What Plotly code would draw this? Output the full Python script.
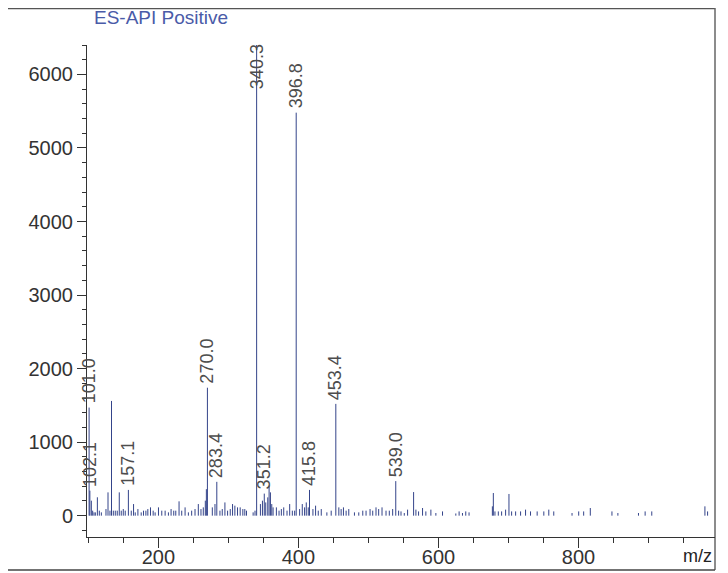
import plotly.graph_objects as go

# ---------------------------------------------------------------------------
# Spectrum values (m/z, intensity)
# ---------------------------------------------------------------------------

# labelled peaks
label_mz = [101.0, 102.1, 157.1, 270.0, 283.4, 340.3, 351.2, 396.8, 415.8, 453.4, 539.0]
label_int = [1470, 340, 350, 1740, 460, 6400, 300, 5480, 350, 1520, 470]
label_txt = ["101.0", "102.1", "157.1", "270.0", "283.4", "340.3", "351.2",
             "396.8", "415.8", "453.4", "539.0"]

# larger unlabelled peaks
other_mz = [112.8, 128.0, 133.0, 144.1, 164.5, 229.5, 268.5, 358.1, 360.0,
            564.5, 678.4, 700.7, 980.6]
other_int = [250, 317, 1560, 317, 158, 195, 360, 408, 317, 321, 308, 295, 127]

# baseline noise
noise_mz = [104.2, 106.1, 108.0, 109.9, 115.6, 118.5, 125.1, 130.8, 135.6, 138.4,
            141.2, 146.9, 149.8, 152.6, 161.2, 166.9, 170.7, 175.4, 178.7, 182.1,
            184.9, 188.7, 192.5, 195.3, 200.1, 204.8, 209.6, 214.3, 218.1, 221.9,
            224.8, 233.3, 238.1, 242.8, 247.5, 252.3, 257.0, 260.8, 264.1, 267.0,
            277.0, 280.8, 287.9, 291.2, 295.0, 298.8, 302.6, 305.9, 309.2, 313.0,
            316.8, 320.6, 323.4, 325.8, 335.3, 338.0, 345.7, 348.6, 353.3, 356.2,
            361.9, 363.8, 368.5, 372.3, 375.6, 379.0, 383.7, 387.5, 391.3, 394.6,
            401.7, 405.5, 408.8, 411.2, 414.0, 420.7, 424.5, 428.3, 432.6, 440.6,
            446.8, 457.7, 461.0, 464.3, 468.1, 471.9, 480.0, 486.2, 491.9, 496.6,
            502.3, 506.1, 510.8, 514.6, 519.4, 525.1, 529.8, 534.6, 543.1, 546.5,
            551.2, 555.9, 567.8, 571.6, 577.3, 582.0, 589.2, 596.3, 605.8, 624.8,
            629.5, 634.3, 639.0, 643.7, 677.0, 680.7, 685.5, 690.2, 695.9, 704.5,
            710.2, 717.3, 724.4, 731.5, 741.0, 750.5, 757.6, 764.7, 790.8, 800.3,
            807.4, 816.9, 847.8, 856.3, 885.7, 895.2, 904.7, 984.4]
noise_int = [204, 68, 45, 45, 68, 45, 90, 68, 68, 68,
             68, 68, 90, 68, 68, 45, 90, 45, 68, 68,
             90, 113, 68, 45, 113, 68, 68, 45, 90, 68,
             68, 68, 113, 45, 68, 90, 158, 90, 113, 204,
             113, 158, 68, 90, 180, 68, 90, 158, 136, 113,
             113, 90, 90, 68, 45, 68, 158, 204, 180, 249,
             158, 113, 113, 68, 90, 113, 68, 158, 68, 68,
             90, 158, 113, 180, 113, 90, 136, 68, 90, 45,
             68, 113, 90, 113, 68, 90, 45, 45, 68, 68,
             90, 68, 113, 90, 113, 68, 68, 90, 68, 58,
             36, 82, 82, 58, 104, 58, 82, 36, 58, 30,
             58, 36, 58, 45, 127, 58, 58, 58, 82, 58,
             58, 58, 82, 58, 58, 58, 82, 58, 36, 58,
             58, 104, 58, 36, 36, 58, 58, 58]

X_RANGE = [98, 995]
Y_RANGE = [-290, 6400]
Y_TICKS = [0, 1000, 2000, 3000, 4000, 5000, 6000]
X_TICKS = [200, 400, 600, 800]

FONT = "Liberation Sans, Arial, sans-serif"
LINE_COLOR = "#34448a"
AXIS_COLOR = "#333333"

# ---------------------------------------------------------------------------
# Stick spectrum: each peak is a vertical segment from 0 to its intensity
# ---------------------------------------------------------------------------

all_mz = noise_mz + other_mz + label_mz
all_int = noise_int + other_int + label_int
xs, ys = [], []
for m, h in zip(all_mz, all_int):
    xs += [m, m, None]
    ys += [0, h, None]

fig = go.Figure()
fig.add_trace(go.Scatter(
    x=xs, y=ys, mode="lines",
    line=dict(color=LINE_COLOR, width=1),
    hoverinfo="skip", showlegend=False,
))

# peak labels, rotated; labels for clipped peaks are pulled inside the plot
for m, h, t in zip(label_mz, label_int, label_txt):
    if h >= Y_RANGE[1]:
        fig.add_annotation(x=m, y=1, yref="paper", text=t, textangle=-90,
                           xanchor="center", yanchor="top", yshift=3,
                           showarrow=False,
                           font=dict(size=18, color="#4d4d4d", family=FONT))
    else:
        fig.add_annotation(x=m, y=h, text=t, textangle=-90,
                           xanchor="center", yanchor="bottom", yshift=2,
                           showarrow=False,
                           font=dict(size=18, color="#4d4d4d", family=FONT))

# the page body adds an 8px offset; plot box is given in screen pixels
OFF = 8
W, H = 728, 573
PL, PR, PT, PB = 87, 715, 45, 537          # plot box on screen
L, T = PL - OFF, PT - OFF
R, B = W - (PR - OFF), H - (PB - OFF)
pw, ph = PR - PL, PB - PT


def px_x(p):
    return (p - PL) / pw


def px_y(p):
    return (PB - p) / ph


fig.add_annotation(x=px_x(92), y=px_y(18), xref="paper", yref="paper",
                   text="ES-API Positive", xanchor="left", yanchor="middle",
                   showarrow=False,
                   font=dict(size=19, color="#4a5ba8", family=FONT))
fig.add_annotation(x=px_x(714), y=px_y(556), xref="paper", yref="paper",
                   text="m/z", xanchor="right", yanchor="middle",
                   showarrow=False,
                   font=dict(size=18, color="#222222", family=FONT))

# outer frame of the picture (top and right edges, bottom line)
fig.add_shape(type="line", xref="paper", yref="paper",
              x0=px_x(OFF), x1=px_x(715), y0=px_y(OFF + 0.5), y1=px_y(OFF + 0.5),
              line=dict(color="#555555", width=1.5), layer="below")
fig.add_shape(type="line", xref="paper", yref="paper",
              x0=px_x(715), x1=px_x(715), y0=px_y(OFF), y1=px_y(570),
              line=dict(color="#666666", width=1.5), layer="below")
fig.add_shape(type="line", xref="paper", yref="paper",
              x0=px_x(OFF), x1=px_x(715), y0=px_y(570), y1=px_y(570),
              line=dict(color="#444444", width=1.5), layer="below")

fig.update_layout(
    width=W, height=H,
    margin=dict(l=L, r=R, t=T, b=B),
    paper_bgcolor="white",
    plot_bgcolor="white",
    showlegend=False,
    xaxis=dict(
        range=X_RANGE, tickvals=X_TICKS, ticks="outside", ticklen=10,
        ticklabelstandoff=-8,
        tickcolor=AXIS_COLOR, showline=True, linecolor=AXIS_COLOR, linewidth=1,
        showgrid=False, zeroline=False, automargin=False,
        tickfont=dict(size=20, color="#333333", family=FONT),
        minor=dict(dtick=50, tick0=0, ticks="outside", ticklen=5,
                   tickcolor=AXIS_COLOR, showgrid=False),
    ),
    yaxis=dict(
        range=Y_RANGE, tickvals=Y_TICKS, ticks="outside", ticklen=9,
        tickcolor=AXIS_COLOR, showline=True, linecolor=AXIS_COLOR, linewidth=1,
        showgrid=False, zeroline=False, automargin=False,
        tickfont=dict(size=20, color="#333333", family=FONT),
        minor=dict(dtick=200, tick0=0, ticks="outside", ticklen=4,
                   tickcolor=AXIS_COLOR, showgrid=False),
    ),
)

fig.write_html("out.html")
